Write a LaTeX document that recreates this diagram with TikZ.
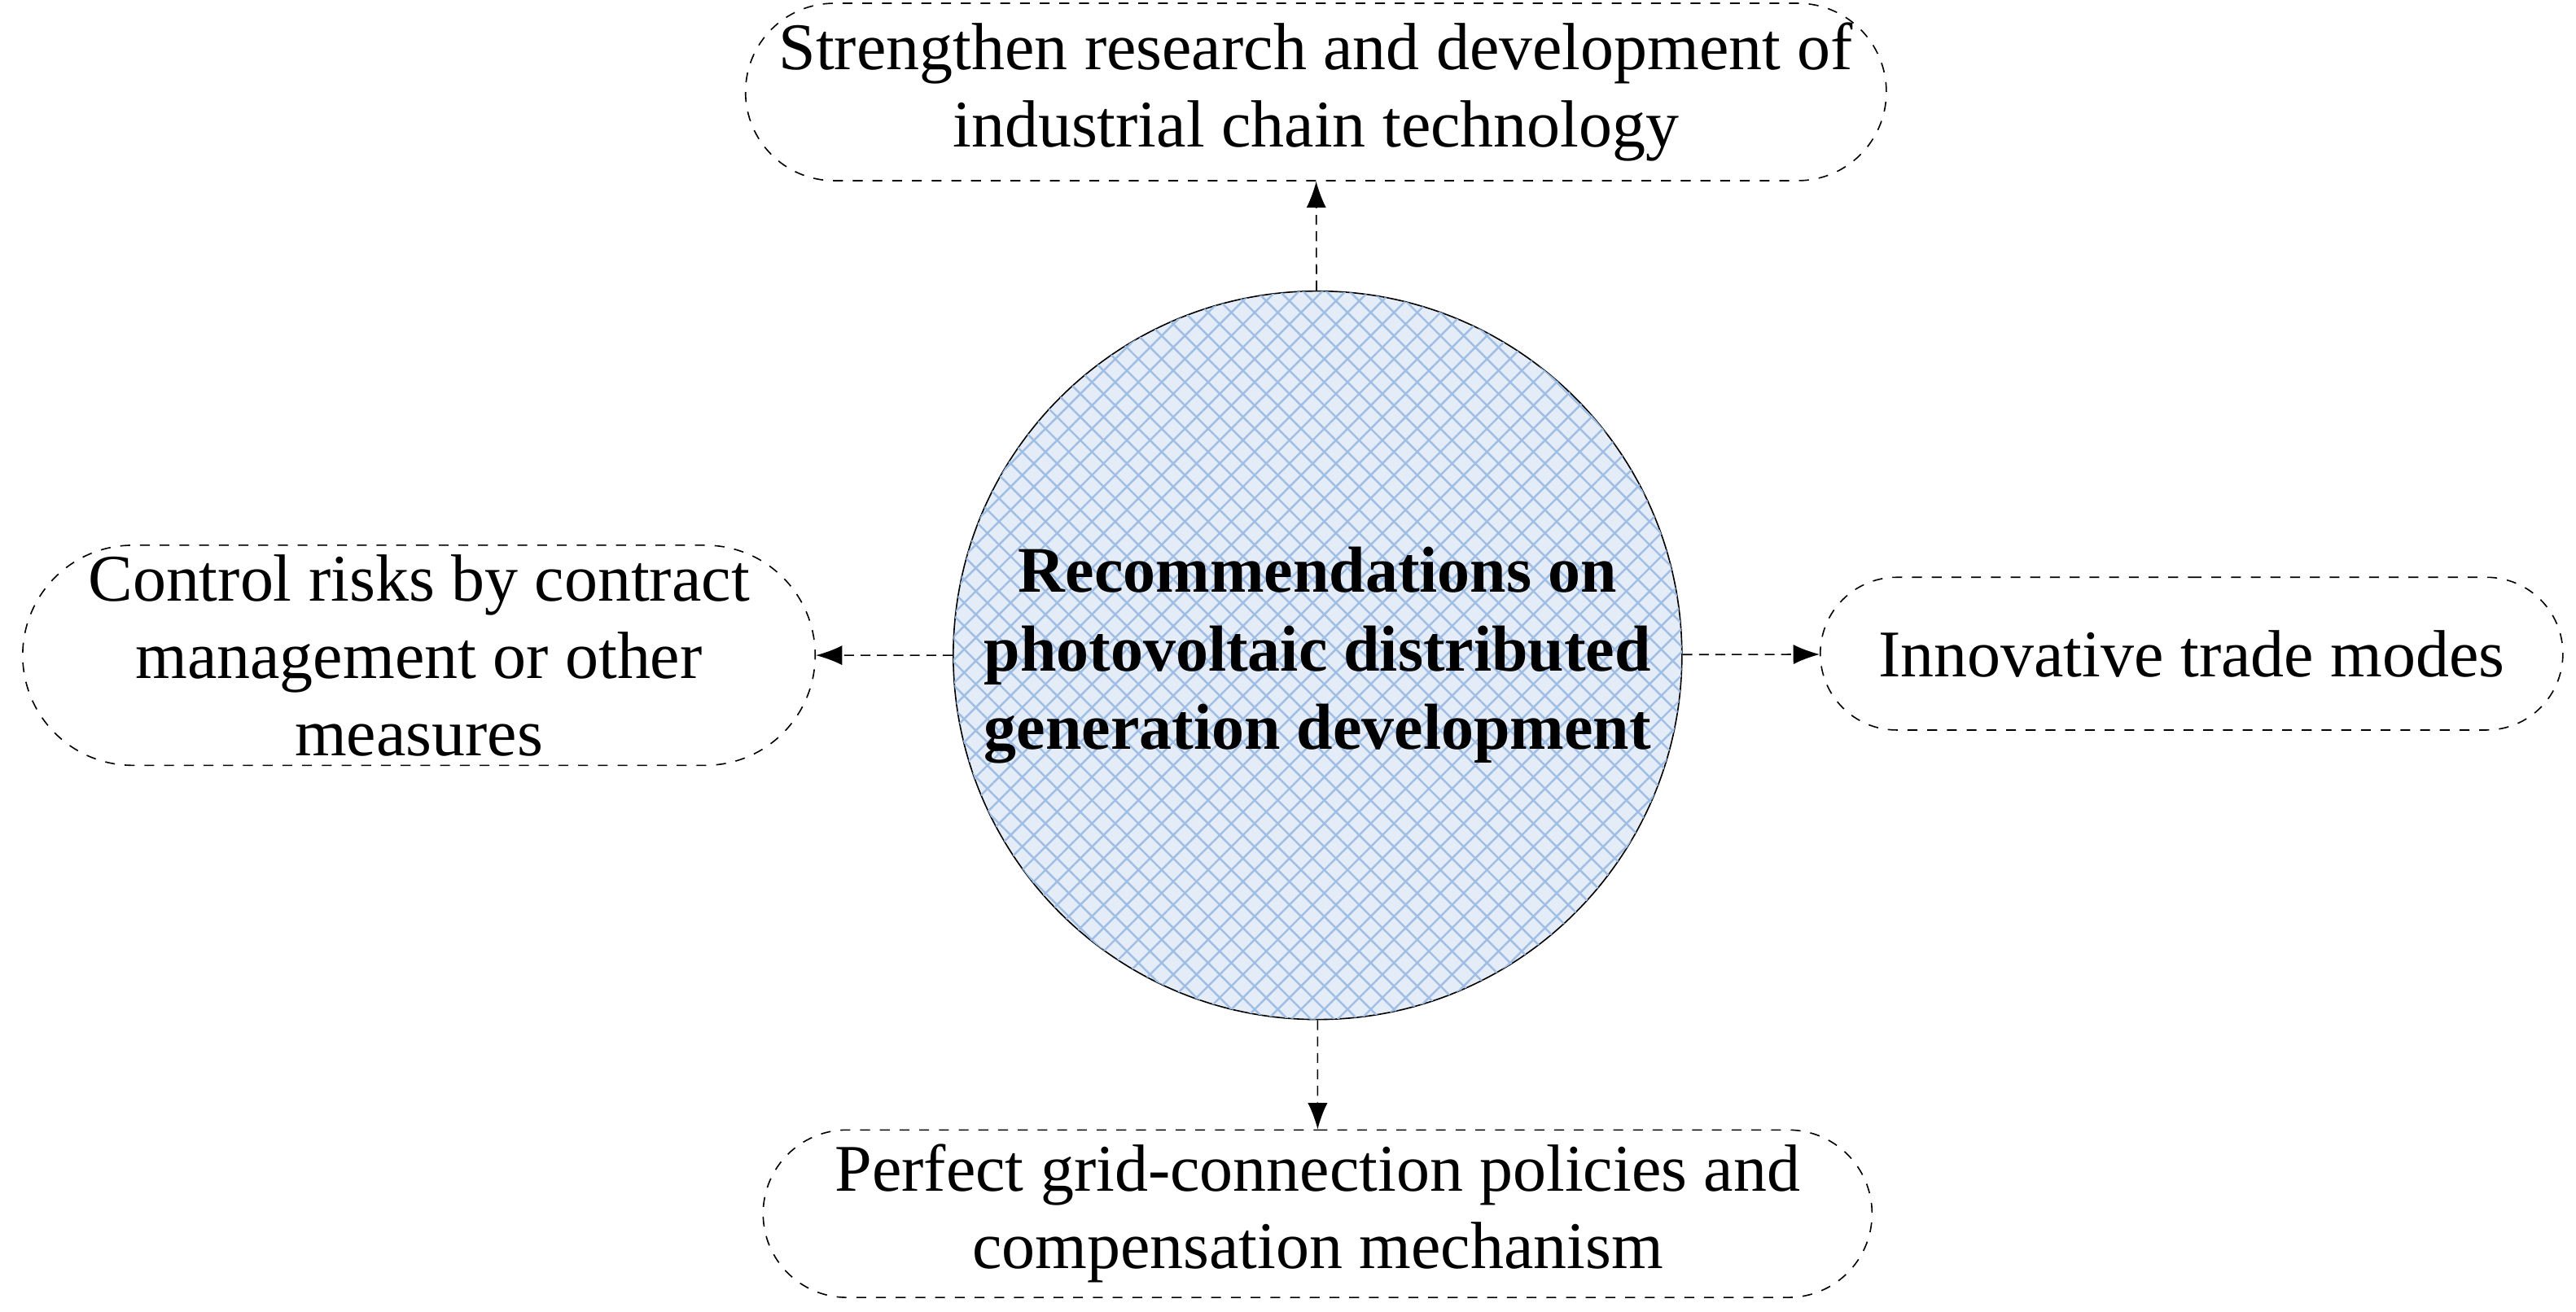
\documentclass[tikz,border=0pt]{standalone}
\usepackage{fontspec}
\setmainfont{Liberation Serif}
\usetikzlibrary{shapes.misc,patterns.meta,arrows.meta}
\begin{document}
\begin{tikzpicture}[x=0.5pt,y=-0.5pt,
  box/.style={draw,dashed,rounded rectangle,align=center,font=\fontsize{20.3}{23.5}\selectfont,inner sep=0pt},
  con/.style={draw,densely dashed,-{Latex[length=8pt,width=6pt]}}]
\useasboundingbox (0,0) rectangle (1568,798.4);
\node[circle,draw,minimum size=420*0.5pt,fill={rgb,255:red,228;green,236;blue,247},
  postaction={pattern={Lines[angle=45,distance=5pt,line width=0.6pt]},pattern color={rgb,255:red,160;green,190;blue,228}},
  postaction={pattern={Lines[angle=-45,distance=5pt,line width=0.6pt]},pattern color={rgb,255:red,160;green,190;blue,228}},
  align=center,font=\bfseries\fontsize{19.8}{24}\selectfont] (c) at (802,399)
  {Recommendations on\\photovoltaic distributed\\generation development};
\node[box,minimum width=677*0.5pt,minimum height=108*0.5pt] (t) at (801,56)
  {Strengthen research and development of\\industrial chain technology};
\node[box,minimum width=480*0.5pt,minimum height=134*0.5pt] (l) at (255,399)
  {Control risks by contract\\management or other\\measures};
\node[box,minimum width=452*0.5pt,minimum height=93*0.5pt] (r) at (1334,398)
  {Innovative trade modes};
\node[box,minimum width=675*0.5pt,minimum height=102*0.5pt] (b) at (802,739)
  {Perfect grid-connection policies and\\compensation mechanism};
\draw[con] (c) -- (t);
\draw[con] (c) -- (b);
\draw[con] (c) -- (l);
\draw[con] (c) -- (r);
\end{tikzpicture}
\end{document}
